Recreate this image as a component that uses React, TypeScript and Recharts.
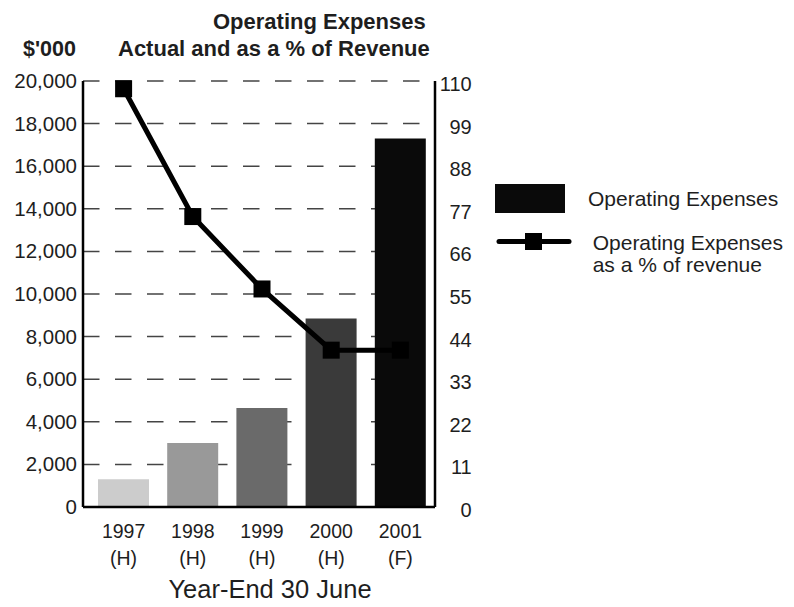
import React from 'react';
import {
  ComposedChart,
  Bar,
  Line,
  XAxis,
  YAxis,
  CartesianGrid,
  Cell,
  Legend,
} from 'recharts';

// Fiscal years and their status note (H = historical, F = forecast)
const years = ['1997', '1998', '1999', '2000', '2001'];
const statusNotes = ['(H)', '(H)', '(H)', '(H)', '(F)'];

// Operating expenses in $'000
const operatingExpenses = [1300, 3000, 4650, 8850, 17300];

// Operating expenses as a % of revenue
const pctOfRevenue = [108, 75, 56.3, 40.5, 40.5];

// Bar shades, light to dark
const barShades = ['#cccccc', '#999999', '#6a6a6a', '#3a3a3a', '#0a0a0a'];

// Axis ticks
const leftTicks = [0, 2000, 4000, 6000, 8000, 10000, 12000, 14000, 16000, 18000, 20000];
const rightTicks = [0, 11, 22, 33, 44, 55, 66, 77, 88, 99, 110];

const FONT = '"Liberation Sans", Arial, Helvetica, sans-serif';
const INK = '#1e1e1e';

const data = years.map((year, i) => ({
  year,
  note: statusNotes[i],
  expenses: operatingExpenses[i],
  pct: pctOfRevenue[i],
}));

const fmtThousands = (v: number) => v.toLocaleString('en-US');

const LeftTick = (props: any) => {
  const { x, y, payload } = props;
  return (
    <text x={x} y={y} dy={7} textAnchor="end" fontSize={20.5} fill={INK} fontFamily={FONT}>
      {fmtThousands(payload.value)}
    </text>
  );
};

const RightTick = (props: any) => {
  const { x, y, payload } = props;
  return (
    <text x={x + 33.7} y={y} dy={10} textAnchor="end" fontSize={20} fill={INK} fontFamily={FONT}>
      {payload.value}
    </text>
  );
};

const YearTick = (props: any) => {
  const { x, y, payload } = props;
  const idx = years.indexOf(payload.value);
  return (
    <g>
      <text x={x} y={y + 31} textAnchor="middle" fontSize={19.5} fill={INK} fontFamily={FONT}>
        {payload.value}
      </text>
      <text x={x} y={y + 58} textAnchor="middle" fontSize={19.5} fill={INK} fontFamily={FONT}>
        {statusNotes[idx]}
      </text>
    </g>
  );
};

const SquareDot = (props: any) => {
  const { cx, cy, index } = props;
  if (cx == null || cy == null) return null;
  const s = 17;
  return <rect key={`dot-${index}`} x={cx - s / 2} y={cy - s / 2} width={s} height={s} fill="#000" />;
};

const LegendContent = () => (
  <svg width={300} height={100} style={{ display: 'block', overflow: 'visible' }}>
    <rect x={5} y={4} width={70} height={29} fill="#0a0a0a" />
    <text x={98} y={25.5} fontSize={21} fill={INK} fontFamily={FONT}>
      Operating Expenses
    </text>
    <line x1={9} x2={79} y1={61.5} y2={61.5} stroke="#000" strokeWidth={5} strokeLinecap="round" />
    <rect x={35} y={53} width={17} height={17} fill="#000" />
    <text x={102.7} y={69.5} fontSize={21} fill={INK} fontFamily={FONT}>
      Operating Expenses
    </text>
    <text x={102.7} y={92} fontSize={21} fill={INK} fontFamily={FONT}>
      as a % of revenue
    </text>
  </svg>
);

const XAxisTitle = (props: any) => {
  const { viewBox } = props;
  const cx = viewBox.x + viewBox.width / 2 + 11;
  return (
    <text x={cx} y={598} textAnchor="middle" fontSize={25.5} fill={INK} fontFamily={FONT}>
      Year-End 30 June
    </text>
  );
};

export default function App() {
  return (
    <div style={{ position: 'absolute', left: 0, top: 0, width: 794, height: 607, background: '#fff' }}>
      <svg
        width={794}
        height={70}
        style={{ position: 'absolute', left: 0, top: 0, pointerEvents: 'none' }}
      >
        <text x={213} y={29} fontSize={22} fontWeight="bold" fill={INK} fontFamily={FONT}>
          Operating Expenses
        </text>
        <text x={118} y={56} fontSize={22} fontWeight="bold" fill={INK} fontFamily={FONT}>
          Actual and as a % of Revenue
        </text>
        <text x={23} y={56} fontSize={21.5} fontWeight="bold" fill={INK} fontFamily={FONT}>
          $'000
        </text>
      </svg>
      <ComposedChart
        width={794}
        height={607}
        data={data}
        margin={{ top: 81, right: 0, bottom: 0, left: 0 }}
        style={{ position: 'absolute', left: 0, top: 0 }}
      >
        <CartesianGrid
          yAxisId="left"
          vertical={false}
          stroke="#444"
          strokeWidth={1.5}
          strokeDasharray="16.5 15.5"
        />
        <XAxis
          dataKey="year"
          height={100}
          padding={{ left: 6, right: 0 }}
          tickLine={false}
          tickSize={0}
          tickMargin={0}
          axisLine={{ stroke: '#000', strokeWidth: 2.5 }}
          tick={<YearTick />}
          interval={0}
          label={<XAxisTitle />}
        />
        <YAxis
          yAxisId="left"
          width={83}
          domain={[0, 20000]}
          ticks={leftTicks}
          tickLine={false}
          tickSize={0}
          tickMargin={6}
          axisLine={{ stroke: '#000', strokeWidth: 2.5 }}
          tick={<LeftTick />}
          interval={0}
        />
        <YAxis
          yAxisId="right"
          orientation="right"
          width={359}
          domain={[0, 110]}
          ticks={rightTicks}
          tickLine={false}
          tickSize={0}
          tickMargin={3}
          axisLine={{ stroke: '#000', strokeWidth: 2.5 }}
          tick={<RightTick />}
          interval={0}
        />
        <Legend
          layout="horizontal"
          verticalAlign="middle"
          align="center"
          content={<LegendContent />}
          wrapperStyle={{ left: 490, top: 180, width: 300, height: 100 }}
        />
        <Bar
          yAxisId="left"
          dataKey="expenses"
          name="Operating Expenses"
          barSize={51}
          fill="#0a0a0a"
          isAnimationActive={false}
        >
          {data.map((d, i) => (
            <Cell key={d.year} fill={barShades[i]} />
          ))}
        </Bar>
        <Line
          yAxisId="right"
          dataKey="pct"
          name="Operating Expenses as a % of revenue"
          type="linear"
          stroke="#000"
          strokeWidth={5}
          dot={<SquareDot />}
          activeDot={false}
          isAnimationActive={false}
        />
      </ComposedChart>
    </div>
  );
}
